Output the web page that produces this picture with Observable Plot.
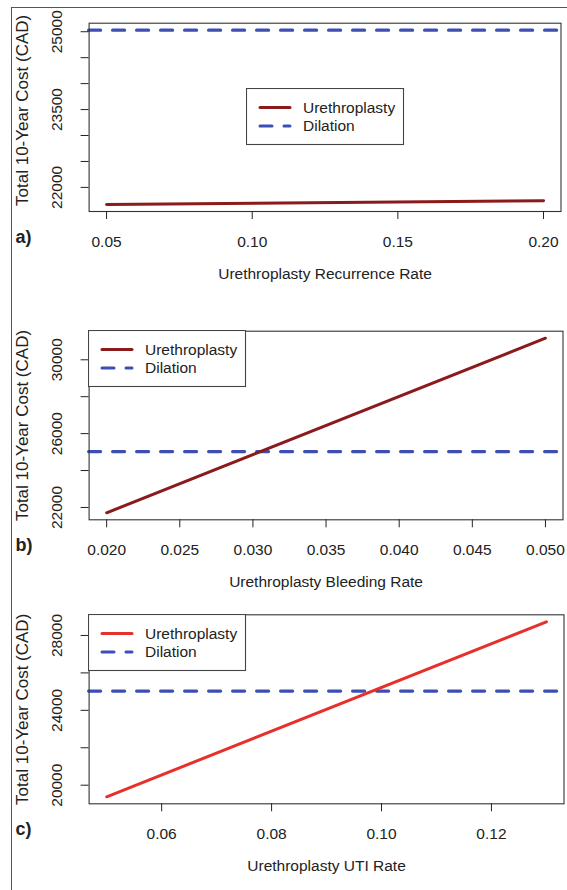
<!DOCTYPE html>
<html><head><meta charset="utf-8">
<script src="https://cdn.jsdelivr.net/npm/d3@7"></script>
<script src="https://cdn.jsdelivr.net/npm/@observablehq/plot@0.6"></script>
<style>
body{margin:0;background:#fff;}
#root{position:relative;width:567px;height:890px;overflow:hidden;background:#fff;font-family:"Liberation Sans",Arial,Helvetica,sans-serif;}
.panel{position:absolute;left:0;}
.frameline{position:absolute;left:10.5px;top:6.5px;width:600px;height:900px;border-top:1px solid #555;border-left:1px solid #555;}
.legend{position:absolute;}
</style></head><body><div id="root"><div class="frameline"></div></div>
<script>
// ---- data ----
const seriesNames = ["Urethroplasty", "Dilation"];
const dilationCost = 25030;
const recurrenceRate = [0.05, 0.20];
const recurrenceCost = [21670, 21745];
const bleedingRate = [0.020, 0.050];
const bleedingCost = [21710, 31170];
const utiRate = [0.05, 0.13];
const utiCost = [19380, 28730];
const xTicksA = [0.05, 0.10, 0.15, 0.20];
const xTicksB = [0.020, 0.025, 0.030, 0.035, 0.040, 0.045, 0.050];
const xTicksC = [0.06, 0.08, 0.10, 0.12];
const yTicksA = [22000, 22500, 23000, 23500, 24000, 24500, 25000];
const yLabelsA = [22000, 23500, 25000];
const yTicksB = [22000, 24000, 26000, 28000, 30000];
const yLabelsB = [22000, 26000, 30000];
const yTicksC = [20000, 22000, 24000, 26000, 28000];
const yLabelsC = [20000, 24000, 28000];
const xTitles = ["Urethroplasty Recurrence Rate", "Urethroplasty Bleeding Rate", "Urethroplasty UTI Rate"];
const yTitle = "Total 10-Year Cost (CAD)";
const panelTags = ["a)", "b)", "c)"];

// ---- styling ----
const FONT = '"Liberation Sans", Arial, Helvetica, sans-serif';
const BLUE = "#3b4fb4";
const DARKRED = "#8b1a1a";
const RED = "#e8302b";
const W = 567;

const panels = [
  {top: 0, h: 295, mt: 22.7, mb: 84, mr: 6.5, x: recurrenceRate, y: recurrenceCost, xTicks: xTicksA, fmt: ".2f",
   yTicks: yTicksA, yLabels: yLabelsA, color: DARKRED, xTitle: xTitles[0], tag: panelTags[0], ytDy: -7, legend: "center"},
  {top: 295, h: 295, mt: 35.7, mb: 70.7, mr: 4.5, x: bleedingRate, y: bleedingCost, xTicks: xTicksB, fmt: ".3f",
   yTicks: yTicksB, yLabels: yLabelsB, color: DARKRED, xTitle: xTitles[1], tag: panelTags[1], ytDy: 0, legend: "topleft"},
  {top: 590, h: 300, mt: 24.3, mb: 86.7, mr: 3.5, x: utiRate, y: utiCost, xTicks: xTicksC, fmt: ".2f",
   yTicks: yTicksC, yLabels: yLabelsC, color: RED, xTitle: xTitles[2], tag: panelTags[2], ytDy: 0, legend: "topleft"}
];
const ML = 88.6;

function pad([lo, hi]) { const d = (hi - lo) * 0.04; return [lo - d, hi + d]; }

const root = document.getElementById("root");

for (const cfg of panels) {
  const data = cfg.x.map((x, i) => ({x, y: cfg.y[i]}));
  const xd = pad(d3.extent(cfg.x));
  const yd = pad(d3.extent([...cfg.y, dilationCost]));
  const chart = Plot.plot({
    width: W, height: cfg.h,
    marginTop: cfg.mt, marginBottom: cfg.mb, marginLeft: ML, marginRight: cfg.mr,
    x: {domain: xd}, y: {domain: yd},
    style: {fontFamily: FONT, fontSize: "15.5px", color: "#222", background: "transparent", overflow: "visible"},
    marks: [
      Plot.ruleY([dilationCost], {stroke: BLUE, strokeWidth: 3.2, strokeDasharray: "12,12", strokeLinecap: "round"}),
      Plot.line(data, {x: "x", y: "y", stroke: cfg.color, strokeWidth: 3, strokeLinecap: "round"}),
      Plot.frame({stroke: "#333", strokeWidth: 1.1}),
      Plot.axisX({ticks: cfg.xTicks, tickFormat: d3.format(cfg.fmt), tickSize: 8, tickPadding: 16.5, label: null, fontSize: 15.5}),
      Plot.axisY({ticks: cfg.yTicks, tickFormat: d => cfg.yLabels.includes(d) ? String(d) : "", tickRotate: -90,
                  tickSize: 8, tickPadding: 19, label: null, fontSize: 15.5}),
      Plot.text([cfg.xTitle], {text: d => d, frameAnchor: "bottom", dy: 67, fontSize: 15.5, fill: "#222"}),
      Plot.text([yTitle], {text: d => d, frameAnchor: "left", rotate: -90, dx: -66.6, dy: cfg.ytDy, textAnchor: "middle", fontSize: 17, fill: "#222"}),
      Plot.text([cfg.tag], {text: d => d, frameAnchor: "bottom-left", dx: 15 - ML, dy: 31.5, textAnchor: "start", fontWeight: "bold", fontSize: 18, fill: "#222"})
    ]
  });
  const holder = document.createElement("div");
  holder.className = "panel";
  holder.style.top = cfg.top + "px";
  holder.appendChild(chart);
  root.appendChild(holder);

  // legend (R-style boxed legend)
  const LW = 157, LH = 56;
  const plotL = ML, plotR = W - cfg.mr, plotT = cfg.top + cfg.mt, plotB = cfg.top + cfg.h - cfg.mb;
  let lx, ly;
  if (cfg.legend === "center") { lx = (plotL + plotR) / 2 - LW / 2; ly = (plotT + plotB) / 2 - LH / 2; }
  else { lx = plotL; ly = plotT; }
  const svg = d3.create("svg").attr("width", LW + 2).attr("height", LH + 2)
    .attr("class", "legend").style("left", (lx - 0.5) + "px").style("top", (ly - 0.5) + "px");
  svg.append("rect").attr("x", 0.5).attr("y", 0.5).attr("width", LW).attr("height", LH)
    .attr("fill", "#fff").attr("stroke", "#444").attr("stroke-width", 1.1);
  const colors = [cfg.color, BLUE];
  const dashes = [null, "12,12"];
  seriesNames.forEach((name, i) => {
    const cy = 19.5 + i * 18.5;
    svg.append("line").attr("x1", 14).attr("x2", 44).attr("y1", cy).attr("y2", cy)
      .attr("stroke", colors[i]).attr("stroke-width", 3).attr("stroke-linecap", "round")
      .attr("stroke-dasharray", dashes[i]);
    svg.append("text").attr("x", 57).attr("y", cy).attr("dy", "0.35em")
      .attr("font-family", FONT).attr("font-size", 15.5).attr("fill", "#222").text(name);
  });
  root.appendChild(svg.node());
}
</script></body></html>
